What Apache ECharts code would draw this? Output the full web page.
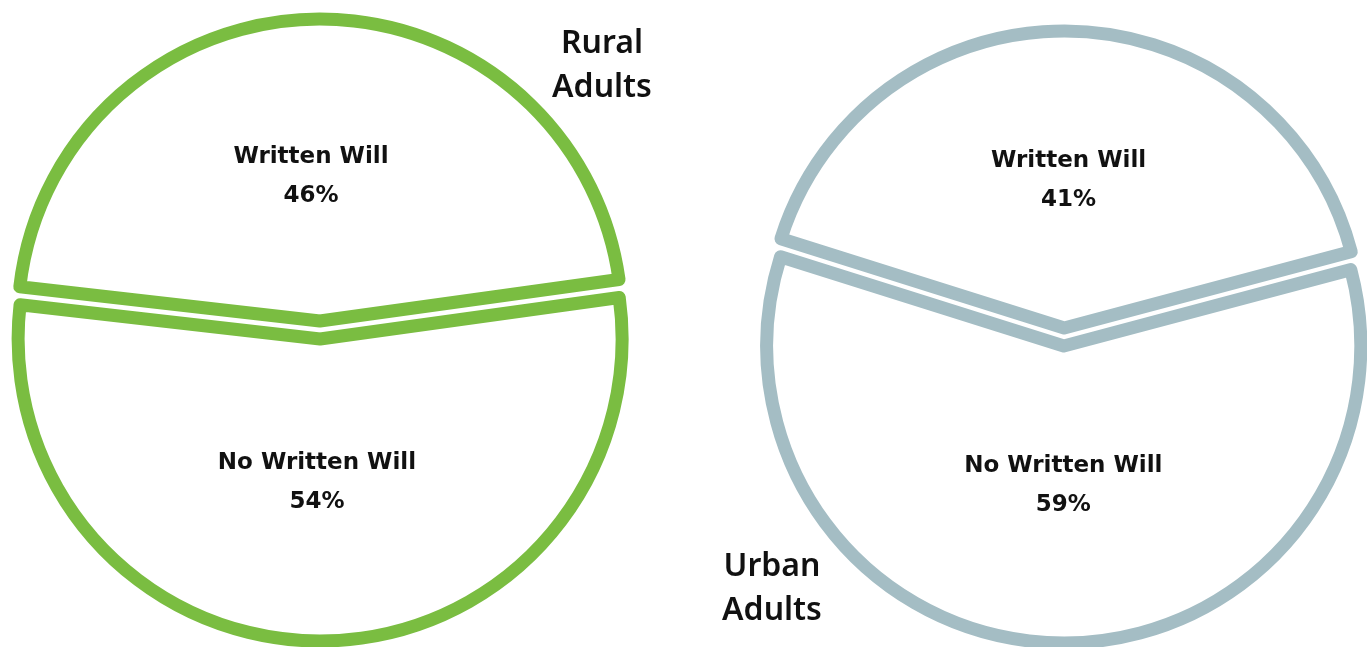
<!DOCTYPE html>
<html>
<head>
<meta charset="utf-8">
<script src="https://cdn.jsdelivr.net/npm/echarts@6/dist/echarts.min.js"></script>
<style>
  html, body { margin: 0; padding: 0; background: #fff; }
  #chart { width: 1367px; height: 647px; }
</style>
</head>
<body>
<div id="chart"></div>
<script>
// values
const categories = ['Written Will', 'No Written Will'];
const ruralValues = [46, 54];
const urbanValues = [41, 59];

const GREEN = '#7abd41';
const GREY = '#a4bdc4';
const FONT = '"DejaVu Sans", "Noto Sans", sans-serif';
const TITLE_FONT = '"Noto Sans", "DejaVu Sans", sans-serif';

function pieSeries(name, values, color, center, radius, startAngle, nudges) {
  const style = { color: '#fff', borderColor: color, borderWidth: 13, borderJoin: 'round' };
  return {
    name: name,
    type: 'pie',
    center: center,
    radius: [0, radius],
    startAngle: startAngle,
    clockwise: true,
    selectedMode: 'multiple',
    selectedOffset: 9,
    silent: true,
    animation: false,
    itemStyle: style,
    select: { itemStyle: style },
    emphasis: { disabled: true },
    label: {
      show: true,
      position: 'inside',
      formatter: '{b}\n{c}%',
      color: '#111',
      fontFamily: FONT,
      fontWeight: 'bold',
      fontSize: 23,
      lineHeight: 39
    },
    // small shifts so the labels sit where they do in the picture
    labelLayout: p => ({ dx: nudges[p.dataIndex][0], dy: nudges[p.dataIndex][1] }),
    labelLine: { show: false },
    data: categories.map((c, i) => ({ name: c, value: values[i], selected: true }))
  };
}

const chart = echarts.init(document.getElementById('chart'));
chart.setOption({
  backgroundColor: '#fff',
  series: [
    pieSeries('Rural Adults', ruralValues, GREEN, [320, 330], 302, 173.5, [[-7, 10], [-5, -10]]),
    pieSeries('Urban Adults', urbanValues, GREY, [1064, 337], 297, 162.5, [[1, 4], [3, -12]])
  ],
  graphic: [
    {
      type: 'text', x: 602, y: 22,
      style: { text: 'Rural\nAdults', fill: '#111', font: '600 32px ' + TITLE_FONT, align: 'center', verticalAlign: 'top', lineHeight: 44 }
    },
    {
      type: 'text', x: 772, y: 545,
      style: { text: 'Urban\nAdults', fill: '#111', font: '600 32px ' + TITLE_FONT, align: 'center', verticalAlign: 'top', lineHeight: 44 }
    }
  ]
});
</script>
</body>
</html>
